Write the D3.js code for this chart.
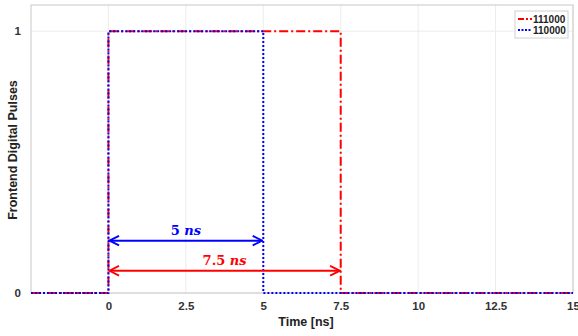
<!DOCTYPE html>
<html>
<head>
<meta charset="utf-8">
<script src="https://cdn.jsdelivr.net/npm/d3@7"></script>
<style>
  body { margin: 0; background: #fff; }
  svg { font-family: "Liberation Sans", Arial, sans-serif; }
</style>
</head>
<body>
<svg id="chart" width="578" height="336"></svg>
<script>
// step signals, [time in ns, level]
const pulse111000 = [[-2.5, 0], [0, 0], [0, 1], [7.5, 1], [7.5, 0], [15, 0]];
const pulse110000 = [[-2.5, 0], [0, 0], [0, 1], [5, 1], [5, 0], [15, 0]];
const xTicks = [0, 2.5, 5, 7.5, 10, 12.5, 15];
const yTicks = [0, 1];
const legendNames = ['111000', '110000'];
// width arrows: [start, end, level, label number]
const spans = [[0, 5, 0.2, '5'], [0, 7.5, 0.085, '7.5']];

const red = '#ff0000';
const blue = '#0000ff';

const svg = d3.select('#chart');
const x = d3.scaleLinear().domain([-2.5, 15]).range([31, 573]);
const y = d3.scaleLinear().domain([0, 1.1]).range([293, 5]);

// grid
svg.append('g').selectAll('line').data(xTicks).join('line')
  .attr('x1', d => x(d)).attr('x2', d => x(d))
  .attr('y1', y.range()[0]).attr('y2', y.range()[1])
  .attr('stroke', '#ececec').attr('stroke-width', 1);
svg.append('g').selectAll('line').data(yTicks).join('line')
  .attr('x1', x.range()[0]).attr('x2', x.range()[1])
  .attr('y1', d => y(d)).attr('y2', d => y(d))
  .attr('stroke', '#ececec').attr('stroke-width', 1);

// box
svg.append('rect')
  .attr('x', x.range()[0]).attr('y', y.range()[1])
  .attr('width', x.range()[1] - x.range()[0])
  .attr('height', y.range()[0] - y.range()[1])
  .attr('fill', 'none').attr('stroke', '#c8c8c8').attr('stroke-width', 1);

// axes
const axisx = d3.axisBottom(x).tickValues(xTicks).tickSize(0).tickPadding(9)
  .tickFormat(d => d3.format('')(d));
const axisy = d3.axisLeft(y).tickValues(yTicks).tickSize(0).tickPadding(10)
  .tickFormat(d3.format('d'));

const gx = svg.append('g')
  .attr('transform', `translate(0,${y.range()[0]})`)
  .call(axisx);
const gy = svg.append('g')
  .attr('transform', `translate(${x.range()[0]},0)`)
  .call(axisy);
[gx, gy].forEach((g) => {
  g.select('.domain').remove();
  g.selectAll('text')
    .attr('font-size', 11.5).attr('font-weight', 'bold').attr('fill', '#333')
    .attr('font-family', '"Liberation Sans", Arial, sans-serif');
});

svg.append('text')
  .attr('x', 306).attr('y', 326)
  .attr('text-anchor', 'middle')
  .attr('font-size', 12.5).attr('font-weight', 'bold').attr('fill', '#222')
  .text('Time [ns]');
svg.append('text')
  .attr('transform', `translate(17,${150}) rotate(-90)`)
  .attr('text-anchor', 'middle')
  .attr('font-size', 12.5).attr('font-weight', 'bold').attr('fill', '#222')
  .text('Frontend Digital Pulses');

// signal lines
const line = d3.line()
  .x(d => x(d[0]))
  .y(d => y(d[1]));

svg.append('path')
  .datum(pulse111000)
  .attr('fill', 'none')
  .attr('stroke', red)
  .attr('stroke-width', 2)
  .attr('stroke-dasharray', '9,3,2,3')
  .attr('d', line);

svg.append('path')
  .datum(pulse110000)
  .attr('fill', 'none')
  .attr('stroke', blue)
  .attr('stroke-width', 2)
  .attr('stroke-dasharray', '2,2')
  .attr('d', line);

// arrows
const defs = svg.append('defs');
[['blue', blue], ['red', red]].forEach(([name, color]) => {
  defs.append('marker')
    .attr('id', `arrow-${name}`)
    .attr('viewBox', '0 0 10 10')
    .attr('refX', 9).attr('refY', 5)
    .attr('markerWidth', 6).attr('markerHeight', 6)
    .attr('markerUnits', 'strokeWidth')
    .attr('orient', 'auto-start-reverse')
    .append('path')
    .attr('d', 'M1,1 L9,5 L1,9')
    .attr('fill', 'none')
    .attr('stroke', color)
    .attr('stroke-width', 1.6);
});

spans.forEach((s, i) => {
  const color = i === 0 ? blue : red;
  const name = i === 0 ? 'blue' : 'red';
  svg.append('line')
    .attr('x1', x(s[0]) + 1).attr('x2', x(s[1]) - 1)
    .attr('y1', y(s[2])).attr('y2', y(s[2]))
    .attr('stroke', color).attr('stroke-width', 2)
    .attr('marker-start', `url(#arrow-${name})`)
    .attr('marker-end', `url(#arrow-${name})`);
  const t = svg.append('text')
    .attr('x', x((s[0] + s[1]) / 2)).attr('y', y(s[2]) - 6)
    .attr('text-anchor', 'middle')
    .attr('font-family', '"DejaVu Serif", "Liberation Serif", serif')
    .attr('font-size', 13).attr('font-weight', 'bold').attr('fill', color);
  t.append('tspan').text(`${s[3]} `);
  t.append('tspan').attr('font-style', 'italic').text('ns');
});

// legend
const lg = svg.append('g').attr('transform', 'translate(515,11)');
lg.append('rect')
  .attr('width', 53).attr('height', 27)
  .attr('fill', '#fff').attr('stroke', '#d0d0d0');
legendNames.forEach((name, i) => {
  const row = lg.append('g').attr('transform', `translate(0,${8 + i * 11})`);
  row.append('line')
    .attr('x1', 3).attr('x2', 17)
    .attr('stroke', i === 0 ? red : blue).attr('stroke-width', 2)
    .attr('stroke-dasharray', i === 0 ? '6,2,2,2' : '2,1.5');
  row.append('text')
    .attr('x', 18).attr('y', 4)
    .attr('font-size', 10).attr('font-weight', 'bold').attr('fill', '#222')
    .text(name);
});
</script>
</body>
</html>
